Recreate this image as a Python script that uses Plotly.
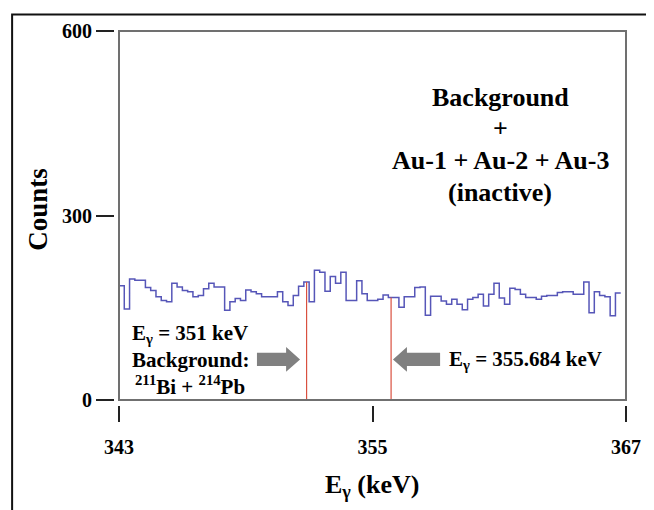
import plotly.graph_objects as go

# ---------------- data ----------------
bin_start_kev = 343.0
bin_width_kev = 0.25
counts = [
    186, 148, 197, 195, 195, 183, 178, 168, 162, 160,
    190, 184, 178, 176, 168, 170, 181, 190, 184, 184,
    146, 160, 165, 162, 179, 176, 173, 168, 168, 168,
    176, 160, 154, 170, 185, 192, 160, 211, 208, 177,
    201, 190, 208, 162, 162, 194, 173, 162, 162, 164,
    171, 167, 167, 151, 168, 168, 183, 184, 138, 169,
    169, 161, 156, 164, 156, 147, 164, 167, 172, 153,
    172, 190, 166, 156, 182, 180, 172, 167, 167, 164,
    169, 170, 170, 175, 176, 176, 172, 172, 192, 142,
    176, 170, 168, 137, 174,
]
line_energies_kev = [351.88, 355.88]
x_ticks = [343, 355, 367]
y_ticks = [0, 300, 600]

FONT = "Liberation Serif, Times New Roman, serif"

edges = [bin_start_kev + bin_width_kev * i for i in range(len(counts) + 1)]
step_y = counts + [counts[-1]]

fig = go.Figure()
fig.add_trace(go.Scatter(
    x=edges, y=step_y, mode="lines", line_shape="hv",
    line=dict(color="#5656b8", width=1.5), hoverinfo="skip", showlegend=False))

for e in line_energies_kev:
    idx = int((e - bin_start_kev) / bin_width_kev)
    fig.add_trace(go.Scatter(
        x=[e, e], y=[0, counts[idx]], mode="lines",
        line=dict(color="#d9503f", width=1.2), hoverinfo="skip", showlegend=False))

shapes = []
# plot frame
shapes.append(dict(type="rect", xref="x domain", yref="y domain", x0=0, x1=1, y0=0, y1=1,
                   line=dict(color="#707070", width=2), layer="above"))
# outer frame
shapes.append(dict(type="rect", xref="paper", yref="paper", x0=-0.199, x1=1.047, y0=-0.29, y1=1.044,
                   line=dict(color="#111111", width=2)))


def block_arrow(tail, base, tip, yc, hb, hh):
    return (f"M {tail},{yc-hb} L {base},{yc-hb} L {base},{yc-hh} L {tip},{yc} "
            f"L {base},{yc+hh} L {base},{yc+hb} L {tail},{yc+hb} Z")


shapes.append(dict(type="path", xref="x", yref="y",
                   path=block_arrow(349.53, 350.91, 351.57, 66.2, 10.7, 20),
                   fillcolor="#808080", line=dict(width=0)))
shapes.append(dict(type="path", xref="x", yref="y",
                   path=block_arrow(358.20, 356.63, 355.97, 66.2, 10.7, 20),
                   fillcolor="#808080", line=dict(width=0)))

ann = []


def txt(x, y, s, size, xref="x", yref="y", angle=0):
    ann.append(dict(x=x, y=y, xref=xref, yref=yref, text=s, showarrow=False,
                    textangle=angle, xanchor="center", yanchor="middle",
                    font=dict(family=FONT, size=size, color="black", weight="bold")))


txt(361.04, 492, "Background", 26)
txt(361.04, 441, "+", 26)
txt(361.04, 389, "Au-1 + Au-2 + Au-3", 26)
txt(361.04, 338, "(inactive)", 26)
txt(346.38, 108, "E<sub>γ</sub> = 351 keV", 21)
txt(346.38, 66, "Background:", 21)
txt(346.38, 23, "<sup>211</sup>Bi + <sup>214</sup>Pb", 21)
txt(362.22, 66, "E<sub>γ</sub> = 355.684 keV", 21)
# axis titles (paper coords; plot area spans page px 114..626 x 22..405)
txt((372 - 114) / 512, (405 - 488) / 383, "E<sub>γ</sub> (keV)", 26, "paper", "paper")
txt((38 - 114) / 512, (405 - 205) / 383, "Counts", 27, "paper", "paper", -90)

# The page body adds an 8 px offset, so the figure is laid out 8 px up/left.
fig.update_layout(
    width=646, height=502,
    margin=dict(l=106, r=28, t=14, b=105, pad=0),
    paper_bgcolor="white", plot_bgcolor="white",
    shapes=shapes, annotations=ann,
    xaxis=dict(domain=[5 / 512, 1], range=[343, 367], anchor="free", position=0,
               showline=False, showgrid=False, zeroline=False,
               ticks="outside", ticklen=16, tickwidth=2, tickcolor="#222222",
               tickvals=x_ticks, ticktext=[str(v) for v in x_ticks],
               ticklabelstandoff=8,
               tickfont=dict(family=FONT, size=20, color="black", weight="bold")),
    yaxis=dict(domain=[5 / 383, 1], range=[0, 600], anchor="free", position=0,
               showline=False, showgrid=False, zeroline=False,
               ticks="outside", ticklen=18, tickwidth=2, tickcolor="#222222",
               tickvals=y_ticks, ticktext=[str(v) for v in y_ticks],
               tickfont=dict(family=FONT, size=20, color="black", weight="bold")),
)

fig.write_html("out.html")
